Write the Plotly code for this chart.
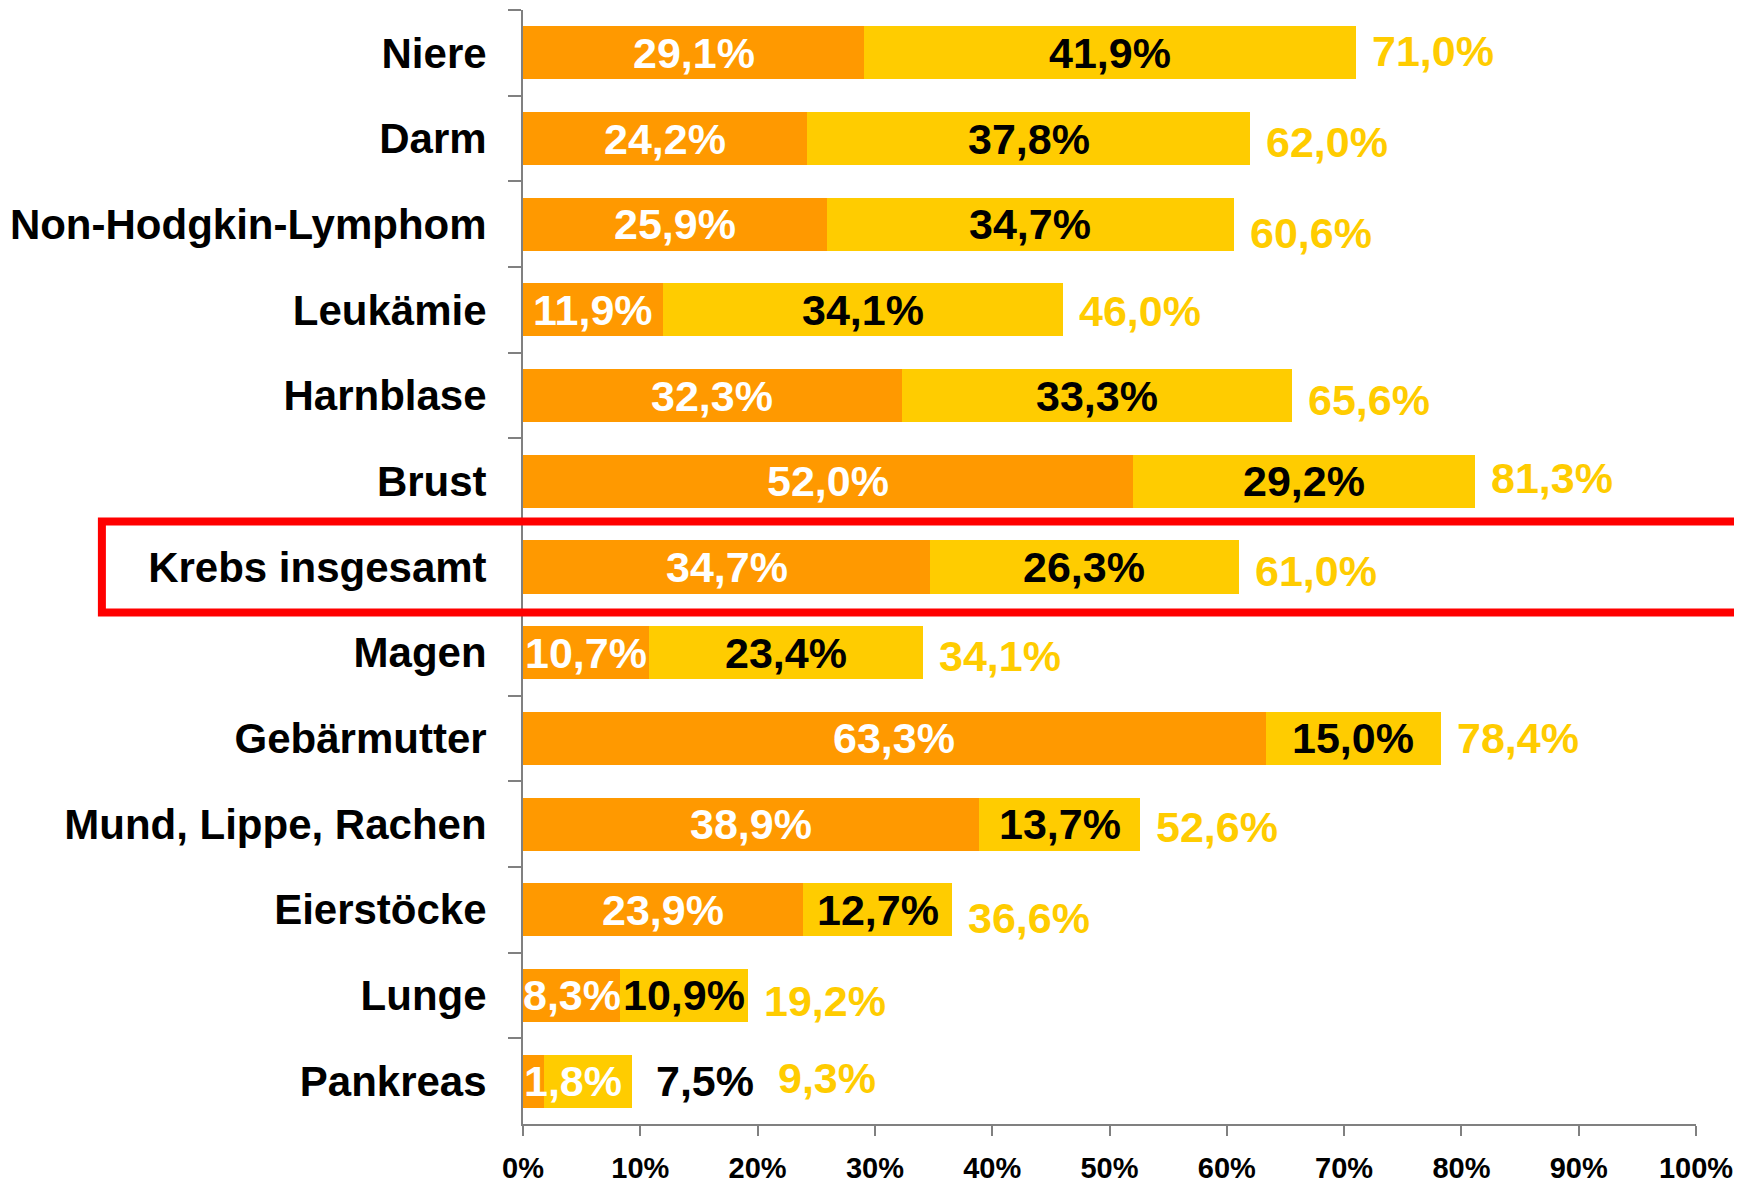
import plotly.graph_objects as go

categories = ["Niere", "Darm", "Non-Hodgkin-Lymphom", "Leukämie", "Harnblase", "Brust",
              "Krebs insgesamt", "Magen", "Gebärmutter", "Mund, Lippe, Rachen",
              "Eierstöcke", "Lunge", "Pankreas"]
series_a = [29.1, 24.2, 25.9, 11.9, 32.3, 52.0, 34.7, 10.7, 63.3, 38.9, 23.9, 8.3, 1.8]
series_b = [41.9, 37.8, 34.7, 34.1, 33.3, 29.2, 26.3, 23.4, 15.0, 13.7, 12.7, 10.9, 7.5]
totals = [71.0, 62.0, 60.6, 46.0, 65.6, 81.3, 61.0, 34.1, 78.4, 52.6, 36.6, 19.2, 9.3]
x_ticks = [0, 10, 20, 30, 40, 50, 60, 70, 80, 90, 100]
x_tick_labels = ["0%", "10%", "20%", "30%", "40%", "50%", "60%", "70%", "80%", "90%", "100%"]
highlight = "Krebs insgesamt"

ORANGE = "#FF9900"
YELLOW = "#FFCC00"
FONT = "Liberation Sans, Arial, sans-serif"


def fmt(v):
    return f"{v:.1f}".replace(".", ",") + "%"


fig = go.Figure()
fig.add_trace(go.Bar(y=categories, x=series_a, orientation="h", marker=dict(color=ORANGE, line=dict(width=0)),
                     hoverinfo="skip", showlegend=False))
fig.add_trace(go.Bar(y=categories, x=series_b, orientation="h", marker=dict(color=YELLOW, line=dict(width=0)),
                     hoverinfo="skip", showlegend=False))

# manual label nudges (pixels), as placed by hand in the original chart
shift_a = {"Pankreas": 39}
shift_b = {"Pankreas": 117}
shift_t = {"Pankreas": 130}
total_dy = {"Niere": 2, "Darm": -3, "Non-Hodgkin-Lymphom": -9, "Leukämie": -1, "Harnblase": -4,
            "Brust": 3, "Krebs insgesamt": -4, "Magen": -3, "Mund, Lippe, Rachen": -3,
            "Eierstöcke": -8, "Lunge": -6, "Pankreas": 3}

annotations = []
for c, a, b, t in zip(categories, series_a, series_b, totals):
    annotations.append(dict(x=a / 2, y=c, xref="x", yref="y", text=fmt(a), showarrow=False,
                            xshift=shift_a.get(c, 0),
                            font=dict(family=FONT, size=43, color="white", weight="bold")))
    annotations.append(dict(x=a + b / 2, y=c, xref="x", yref="y", text=fmt(b), showarrow=False,
                            xshift=shift_b.get(c, 0),
                            font=dict(family=FONT, size=43, color="black", weight="bold")))
    annotations.append(dict(x=a + b, y=c, xref="x", yref="y", text=fmt(t), showarrow=False,
                            xanchor="left", xshift=14 + shift_t.get(c, 0), yshift=total_dy.get(c, 0),
                            font=dict(family=FONT, size=43, color=YELLOW, weight="bold")))

idx = categories.index(highlight)
fig.add_shape(type="rect", xref="paper", yref="y", x0=-0.359, x1=1.06,
              y0=idx - 0.53, y1=idx + 0.53, line=dict(color="#FF0000", width=8),
              fillcolor="rgba(0,0,0,0)", layer="above")

# the page body has an 8px margin, so the figure is sized to fill the rest of the window
fig.update_layout(
    barmode="stack",
    bargap=0.38,
    width=1734, height=1179,
    margin=dict(l=515, r=46, t=2, b=63, autoexpand=False),
    paper_bgcolor="white", plot_bgcolor="white",
    font=dict(family=FONT, color="black"),
    annotations=annotations,
    xaxis=dict(range=[0, 100], tickvals=x_ticks, ticktext=x_tick_labels, showgrid=False, zeroline=False,
               showline=True, linecolor="#808080", linewidth=2, ticks="outside", ticklen=10,
               tickcolor="#808080", tickwidth=2, ticklabelstandoff=7, automargin=False,
               tickfont=dict(family=FONT, size=29, color="black", weight="bold")),
    yaxis=dict(categoryorder="array", categoryarray=categories, autorange="reversed",
               showgrid=False, zeroline=False, showline=True, linecolor="#808080", linewidth=2,
               ticks="outside", ticklen=13, tickcolor="#808080", tickwidth=2, tickson="boundaries",
               ticklabelstandoff=26, automargin=False,
               tickfont=dict(family=FONT, size=42, color="black", weight="bold")),
)

fig.write_html("out.html")
